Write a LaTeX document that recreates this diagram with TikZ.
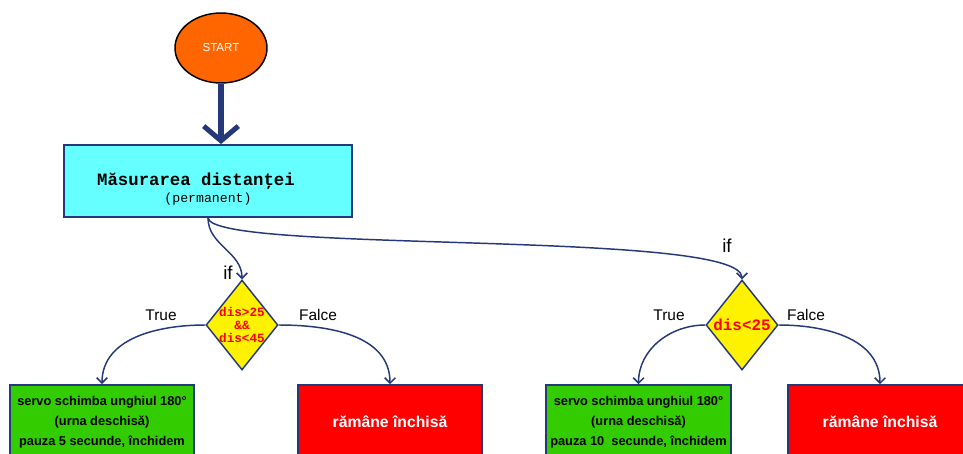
\documentclass[tikz,border=0pt]{standalone}
\usepackage{fontspec}
\setmainfont{Liberation Sans}
\newfontfamily\courfont{Liberation Mono}
\usetikzlibrary{shapes.geometric,arrows.meta}

\definecolor{navy}{RGB}{36,56,122}
\definecolor{startorange}{RGB}{255,102,0}
\definecolor{boxcyan}{RGB}{102,255,255}
\definecolor{boxgreen}{RGB}{51,204,0}
\definecolor{boxred}{RGB}{255,0,0}

\tikzset{
  startnode/.style={ellipse, draw=black, line width=1.1pt, fill=startorange,
    minimum width=69pt, minimum height=52.5pt, inner sep=0pt,
    text=white, font=\fontsize{8.7}{10}\selectfont},
  measbox/.style={rectangle, draw=navy, line width=1.4pt, fill=boxcyan,
    minimum width=216pt, minimum height=54pt, align=center},
  condnode/.style={diamond, draw=navy, line width=1.1pt, fill=yellow,
    minimum width=54pt, minimum height=67.5pt, inner sep=0pt},
  openbox/.style={rectangle, draw=navy, line width=1.4pt, fill=boxgreen,
    minimum width=138pt, minimum height=55.5pt, align=center,
    font=\fontsize{9.6}{15}\selectfont\bfseries},
  closedbox/.style={rectangle, draw=navy, line width=1.4pt, fill=boxred,
    minimum width=138pt, minimum height=55.5pt, text=white,
    font=\fontsize{11.8}{14}\selectfont\bfseries},
  link/.style={draw=navy, line width=1.1pt, -{Straight Barb[length=4pt,width=8pt]}},
  bigarrow/.style={draw=navy, line width=3.8pt, -{Straight Barb[length=11pt,width=26pt]}},
  lbl/.style={inner sep=0pt, font=\fontsize{11.6}{13}\selectfont},
  iflbl/.style={inner sep=0pt, font=\fontsize{14}{16}\selectfont}
}

\begin{document}
\begin{tikzpicture}[x=0.75pt,y=-0.75pt]
\useasboundingbox (0,0) rectangle (963,453);

% Start and measuring
\node [startnode] (start) at (221,48) {START};
\node [measbox, label={[align=center, yshift=-6pt]center:
  {\courfont\bfseries\fontsize{13}{15}\selectfont M\u{a}surarea distan\c{t}ei}\hspace*{18pt}\\[1pt]
  {\courfont\fontsize{9.9}{11}\selectfont (permanent)}}] (meas) at (208,181) {};
\draw [bigarrow] (start.south) -- (start.south |- meas.north);

% Conditions
\node [condnode, label={[text=boxred, font=\courfont\bfseries\fontsize{9.5}{10}\selectfont, align=center]center:dis>25\\\&\&\\dis<45}] (cond1) at (242,325) {};
\node [condnode, label={[text=boxred, font=\courfont\bfseries\fontsize{11.9}{13}\selectfont]center:dis<25}] (cond2) at (742,325) {};

\draw [link] (meas.south) to [out=-90,in=90] (cond1.north);
\draw [link] (meas.south) .. controls +(5,36) and +(0,-50) .. (cond2.north);
\node [iflbl] (if1) at (228,273) {if};
\node [iflbl] (if2) at (727,246) {if};

% Outcomes, first branch
\node [openbox] (open1) at (102,422) {servo schimba unghiul 180°\\(urna deschis\u{a})\\pauza 5 secunde, \^{\i}nchidem};
\node [closedbox] (closed1) at (390,422) {r\u{a}m\^{a}ne \^{\i}nchis\u{a}};
\draw [link] (cond1.west) to [out=180,in=90] (open1.north);
\draw [link] (cond1.east) to [out=0,in=90] (closed1.north);
\node [lbl] (true1) at (161,315) {True};
\node [lbl] (false1) at (318,315) {Falce};

% Outcomes, second branch
\node [openbox] (open2) at (638.5,422) {servo schimba unghiul 180°\\(urna deschis\u{a})\\pauza 10\ \ secunde, \^{\i}nchidem};
\node [closedbox] (closed2) at (880,422) {r\u{a}m\^{a}ne \^{\i}nchis\u{a}};
\draw [link] (cond2.west) to [out=180,in=90] (open2.north);
\draw [link] (cond2.east) to [out=0,in=90] (closed2.north);
\node [lbl] (true2) at (669,315) {True};
\node [lbl] (false2) at (806,315) {Falce};

\end{tikzpicture}
\end{document}
